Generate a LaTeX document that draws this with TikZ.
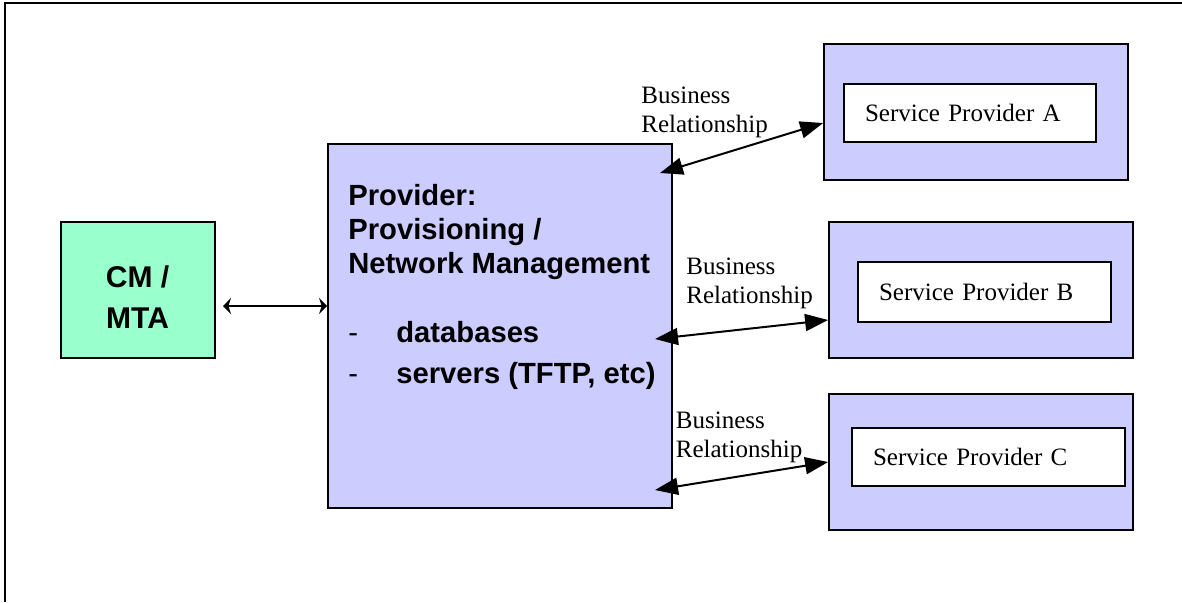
\documentclass[tikz,border=0pt]{standalone}
\usepackage{fontspec}
\setmainfont{Liberation Serif}
\setsansfont{Liberation Sans}
\usepackage{tikz}
\usetikzlibrary{arrows.meta}
\definecolor{provblue}{HTML}{CCCCFF}
\definecolor{cmgreen}{HTML}{99FFCC}
\newcommand{\dashitem}{\makebox[24pt][l]{\mdseries -}}

\begin{document}
\begin{tikzpicture}[x=0.5pt,y=-0.5pt,
	box/.style={draw,line width=0.9pt,fill=provblue,inner sep=0pt},
	spbox/.style={draw,line width=0.9pt,fill=white,align=left,inner ysep=0pt,inner xsep=10.5pt,font=\fontsize{12.5}{14.5}\selectfont},
	lbl/.style={anchor=north west,inner sep=0pt,align=left,font=\fontsize{12.5}{14.5}\selectfont},
	biz/.style={{Triangle[length=11.5pt,width=8.5pt]}-{Triangle[length=11.5pt,width=8.5pt]},line width=1pt}]
	\useasboundingbox (0,0) rectangle (1182,602);

	%frame
	\draw[line width=1pt] (5,602) -- (5,3) -- (1182,3);

	%cm/mta
	\node[box,fill=cmgreen,minimum width=77pt,minimum height=68pt] (cm) at (137.6,290) {};
	\node[inner sep=0pt,align=center,font=\sffamily\bfseries\fontsize{15}{20.5}\selectfont] (cmtxt) at ([yshift=-3.5pt]cm.center) {CM /\\MTA};

	%provider
	\node[box,minimum width=172pt,minimum height=182pt] (prov) at (500,326) {};
	\node[anchor=north west,inner sep=0pt,align=left,font=\sffamily\bfseries\fontsize{14.6}{17}\selectfont] (provtxt) at (348,184) {Provider:\\Provisioning /\\Network Management\\[17.5pt]\dashitem databases\\[3.5pt]\dashitem servers (TFTP, etc)};

	%service providers
	\node[box,minimum width=152pt,minimum height=68pt] (spA) at (976,112) {};
	\node[spbox,text width=105pt,minimum height=29pt] (spAin) at (970,113) {Service Provider A};
	\node[box,minimum width=152pt,minimum height=68pt] (spB) at (981,290) {};
	\node[spbox,text width=105.5pt,minimum height=30pt] (spBin) at (984.5,292) {Service Provider B};
	\node[box,minimum width=152pt,minimum height=68pt] (spC) at (981,462) {};
	\node[spbox,text width=115.5pt,minimum height=29pt] (spCin) at (988.5,457) {Service Provider C};

	%links
	\coordinate (cmout) at (223,306);
	\draw[{Stealth[length=4pt,width=8pt]}-{Stealth[length=4pt,width=8pt]},line width=0.75pt] (cmout) -- (prov.west |- cmout);
	\coordinate (relA) at (660,173);
	\coordinate (relB) at (655,339);
	\coordinate (relC) at (655,490);
	\draw[biz] (relA) -- ([yshift=-5.5pt]spA.west);
	\draw[biz] (relB) -- ([yshift=-15pt]spB.west);
	\draw[biz] (relC) -- (spC.west);

	%labels
	\node[lbl] (bizA) at (641,86.5) {Business\\Relationship};
	\node[lbl] (bizB) at (686,257.5) {Business\\Relationship};
	\node[lbl] (bizC) at (675.5,411.5) {Business\\Relationship};
\end{tikzpicture}
\end{document}
